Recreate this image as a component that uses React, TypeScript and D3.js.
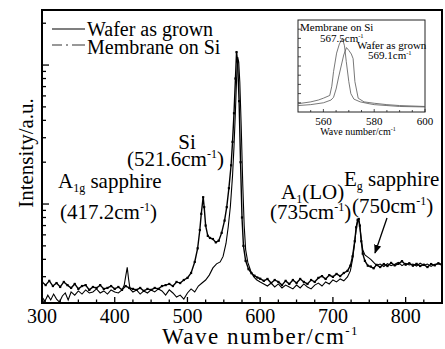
import React from "react";
import * as d3 from "d3";

// Main spectrum: Membrane on Si
const membraneX = [300,305,310,315,320,325,330,335,340,345,350,355,360,365,370,375,380,385,390,395,400,405,410,415,420,425,430,435,440,445,450,455,460,465,470,475,480,485,490,495,500,505,
  510,514,517,519,521.6,523,525,528,531,535,539,543,547,551,554,557,560,562,564,566,567.5,569,571,573,575,577,580,584,588,592,596,
  600,605,610,615,620,625,630,635,640,645,650,655,660,665,670,675,680,685,690,695,700,705,710,715,720,
  724,727,730,732,734,735.5,737,739,741,744,748,752,756,
  760,765,770,775,780,785,790,795,800,805,810,815,820,825,830,835,840,845,850];
const membraneY = [275,261,280,257,270,253,275,261,249,266,245,257,261,241,253,249,261,245,249,257,245,253,241,257,249,245,241,249,237,245,241,249,245,257,261,266,257,275,270,284,294,319,
  383,480,650,850,1120,950,700,590,570,560,530,545,620,760,950,1300,1900,2800,4500,8000,12400,10500,5500,2000,800,500,390,340,318,305,296,
  290,280,289,270,284,275,261,280,266,284,270,289,275,266,284,275,294,303,289,308,299,314,303,319,330,
  360,420,540,680,770,780,700,540,440,390,360,355,345,
  365,352,370,358,377,362,371,388,366,375,360,371,358,366,352,370,362,375,368];

// Main spectrum: Wafer as grown
const waferX = [300,304,308,312,316,320,324,328,332,336,340,345,350,355,360,365,370,375,380,385,390,395,400,405,410,
  413,415,417.2,419,421,425,430,435,440,445,450,455,460,465,470,475,480,485,490,495,500,505,510,515,520,
  525,530,535,540,545,549,553,556,559,562,564,566,567.5,569.1,570.5,572,574,576,578,580,583,587,591,595,
  600,605,610,615,620,625,630,635,640,645,650,655,660,665,670,675,680,685,690,695,700,705,710,715,720,
  724,727,730,732,734,735.5,737,739,741,744,748,752,756,
  760,765,770,775,780,785,790,795,800,805,810,815,820,825,830,835,840,845,850];
const waferY = [214,200,221,204,225,207,197,218,229,204,233,221,237,225,241,229,233,245,229,237,225,241,233,229,241,
  260,300,350,290,245,233,241,225,237,229,241,233,245,237,221,241,229,214,221,207,229,245,233,257,270,
  284,308,347,371,383,420,520,680,960,1600,2600,4700,7800,11400,10500,7500,3500,1400,700,470,380,330,300,285,
  275,266,257,270,253,266,249,261,253,245,261,249,266,253,245,261,270,257,275,266,284,275,289,280,299,
  330,400,530,660,750,760,690,560,470,430,415,400,380,
  362,370,355,372,360,368,380,360,374,364,370,358,375,362,370,356,368,372,362];

// Inset spectra (normalized intensity)
const insetMembraneX = [550,555,558,560,562.5,563.3,564,565.2,566.3,567.5,568.3,569,570,570.8,572,574.5,578,580,585,590,600];
const insetMembraneY = [0.09,0.11,0.13,0.15,0.18,0.28,0.44,0.64,0.74,0.80,0.72,0.55,0.33,0.20,0.14,0.11,0.09,0.08,0.07,0.06,0.055];
const insetWaferX = [550,555,560,563,564,565,566,567,568,569.1,570,571,571.7,572.4,573.7,576,580,585,590,600];
const insetWaferY = [0.07,0.08,0.10,0.13,0.16,0.25,0.38,0.50,0.62,0.70,0.67,0.63,0.58,0.33,0.15,0.11,0.095,0.08,0.07,0.06];

const xTickLabels = [300, 400, 500, 600, 700, 800];
const insetTickLabels = [560, 580, 600];

const FONT = "Liberation Serif, Times New Roman, Times, serif";

export default function App() {
  const x = d3.scaleLinear().domain([300, 850]).range([42, 442]);
  const y = d3.scaleLog().domain([194, 24900]).range([303, 10]);
  const xi = d3.scaleLinear().domain([550, 600]).range([298, 425]);
  const yi = d3.scaleLinear().domain([0, 1]).range([112, 20]);

  const mkPath = (xs: number[], ys: number[], sx: any, sy: any) =>
    d3.line<number>().x((d) => sx(d)).y((_, i) => sy(ys[i]))(xs) || "";

  const memPath = mkPath(membraneX, membraneY, x, y);
  const wafPath = mkPath(waferX, waferY, x, y);
  const memInset = mkPath(insetMembraneX, insetMembraneY, xi, yi);
  const wafInset = mkPath(insetWaferX, insetWaferY, xi, yi);

  const xMinor = d3.range(300, 851, 25);
  const yTicks: number[] = [];
  for (const dec of [100, 1000, 10000]) for (let k = 1; k <= 9; k++) {
    const v = dec * k;
    if (v >= 194 && v <= 24900) yTicks.push(v);
  }
  const insetYTicks = d3.range(0.1, 1.0, 0.1);
  const insetXTicks = d3.range(555, 601, 5);
  const ts = { fontFamily: FONT };

  return (
    <svg width={445} height={349} style={{ position: "fixed", left: 0, top: 0, background: "#fff", fontFamily: FONT }}>
      <defs>
        <clipPath id="plotclip"><rect x={42} y={10} width={400} height={293} /></clipPath>
        <clipPath id="insetclip"><rect x={298} y={20} width={127} height={92} /></clipPath>
        <marker id="arrow" viewBox="0 0 10 10" refX="9" refY="5" markerWidth="7" markerHeight="7" orient="auto">
          <path d="M0,1 L10,5 L0,9 z" fill="#000" />
        </marker>
      </defs>
      <rect x={0} y={0} width={445} height={349} fill="#fff" />

      {/* curves */}
      <g clipPath="url(#plotclip)">
        <path d={wafPath} fill="none" stroke="#000" strokeWidth={1.1} />
        <path d={memPath} fill="none" stroke="#000" strokeWidth={1.4} />
        {membraneX.map((d, i) => (
          <rect key={i} x={x(d) - 1.1} y={y(membraneY[i]) - 1.1} width={2.2} height={2.2} fill="#000" />
        ))}
      </g>

      {/* x ticks */}
      {xMinor.map((t) => {
        const major = t % 100 === 0;
        return <line key={t} x1={x(t)} x2={x(t)} y1={303} y2={303 - (major ? 6 : 3.5)} stroke="#000" strokeWidth={1.3} />;
      })}
      {xTickLabels.map((t) => (
        <text key={t} x={x(t)} y={323} textAnchor="middle" fontSize={20} style={ts}>{t}</text>
      ))}
      {/* y ticks */}
      {yTicks.map((t) => {
        const major = t === 1000 || t === 10000;
        return <line key={t} x1={42} x2={42 + (major ? 7 : 4)} y1={y(t)} y2={y(t)} stroke="#000" strokeWidth={1.3} />;
      })}

      {/* frame */}
      <rect x={42} y={10} width={400} height={293} fill="none" stroke="#000" strokeWidth={2} />

      {/* axis titles */}
      <text x={162} y={344} fontSize={23} letterSpacing={1.5} style={ts}>Wave number/cm<tspan fontSize={13} dy={-9}>-1</tspan></text>
      <text transform="translate(33,153) rotate(-90)" textAnchor="middle" fontSize={21} style={ts}>Intensity/a.u.</text>

      {/* legend */}
      <line x1={52} x2={85} y1={29} y2={29} stroke="#000" strokeWidth={1.2} />
      <line x1={52} x2={85} y1={45} y2={45} stroke="#333" strokeWidth={1.2} strokeDasharray="10 4 2 4 13" />
      <text x={87} y={36} fontSize={20} style={ts}>Wafer as grown</text>
      <text x={87} y={54} fontSize={20} style={ts}>Membrane on Si</text>

      {/* annotations */}
      <text x={187} y={149} textAnchor="middle" fontSize={21} style={ts}>Si</text>
      <text x={127} y={166} fontSize={21} style={ts}>(521.6cm<tspan fontSize={12} dy={-8}>-1</tspan><tspan dy={8}>)</tspan></text>
      <text x={58} y={188} fontSize={21} style={ts}>A<tspan fontSize={12} dy={4}>1g</tspan><tspan dy={-4}> sapphire</tspan></text>
      <text x={60} y={219} fontSize={21} style={ts}>(417.2cm<tspan fontSize={12} dy={-8}>-1</tspan><tspan dy={8}>)</tspan></text>
      <text x={281} y={199} fontSize={21} style={ts}>A<tspan fontSize={12} dy={4}>1</tspan><tspan dy={-4}>(LO)</tspan></text>
      <text x={270} y={219} fontSize={21} style={ts}>(735cm<tspan fontSize={12} dy={-8}>-1</tspan><tspan dy={8}>)</tspan></text>
      <text x={344} y={186} fontSize={21} style={ts}>E<tspan fontSize={12} dy={4}>g</tspan><tspan dy={-4}> sapphire</tspan></text>
      <text x={352} y={213} fontSize={21} style={ts}>(750cm<tspan fontSize={12} dy={-8}>-1</tspan><tspan dy={8}>)</tspan></text>
      <line x1={387} y1={218} x2={375} y2={253} stroke="#000" strokeWidth={1.3} markerEnd="url(#arrow)" />

      {/* inset */}
      <rect x={298} y={20} width={127} height={92} fill="#fff" stroke="#222" strokeWidth={1} />
      <g clipPath="url(#insetclip)">
        <path d={memInset} fill="none" stroke="#555" strokeWidth={0.8} />
        <path d={wafInset} fill="none" stroke="#555" strokeWidth={0.8} />
      </g>
      {insetYTicks.map((t, i) => (
        <line key={i} x1={298} x2={301} y1={yi(t)} y2={yi(t)} stroke="#222" strokeWidth={0.8} />
      ))}
      {insetXTicks.map((t) => (
        <line key={t} x1={xi(t)} x2={xi(t)} y1={112} y2={112 - (t % 20 === 0 ? 3 : 2)} stroke="#222" strokeWidth={0.8} />
      ))}
      {insetTickLabels.map((t) => (
        <text key={t} x={xi(t)} y={125} textAnchor="middle" fontSize={11} style={ts}>{t}</text>
      ))}
      <text x={358} y={135} textAnchor="middle" fontSize={10} style={ts}>Wave number/cm<tspan fontSize={6} dy={-4}>-1</tspan></text>
      <text x={300} y={31} fontSize={11} style={ts}>Membrane on Si</text>
      <text x={320} y={42} fontSize={11} style={ts}>567.5cm<tspan fontSize={6.5} dy={-4}>-1</tspan></text>
      <text x={357} y={49} fontSize={11} style={ts}>Wafer as grown</text>
      <text x={368} y={59} fontSize={11} style={ts}>569.1cm<tspan fontSize={6.5} dy={-4}>-1</tspan></text>
    </svg>
  );
}
